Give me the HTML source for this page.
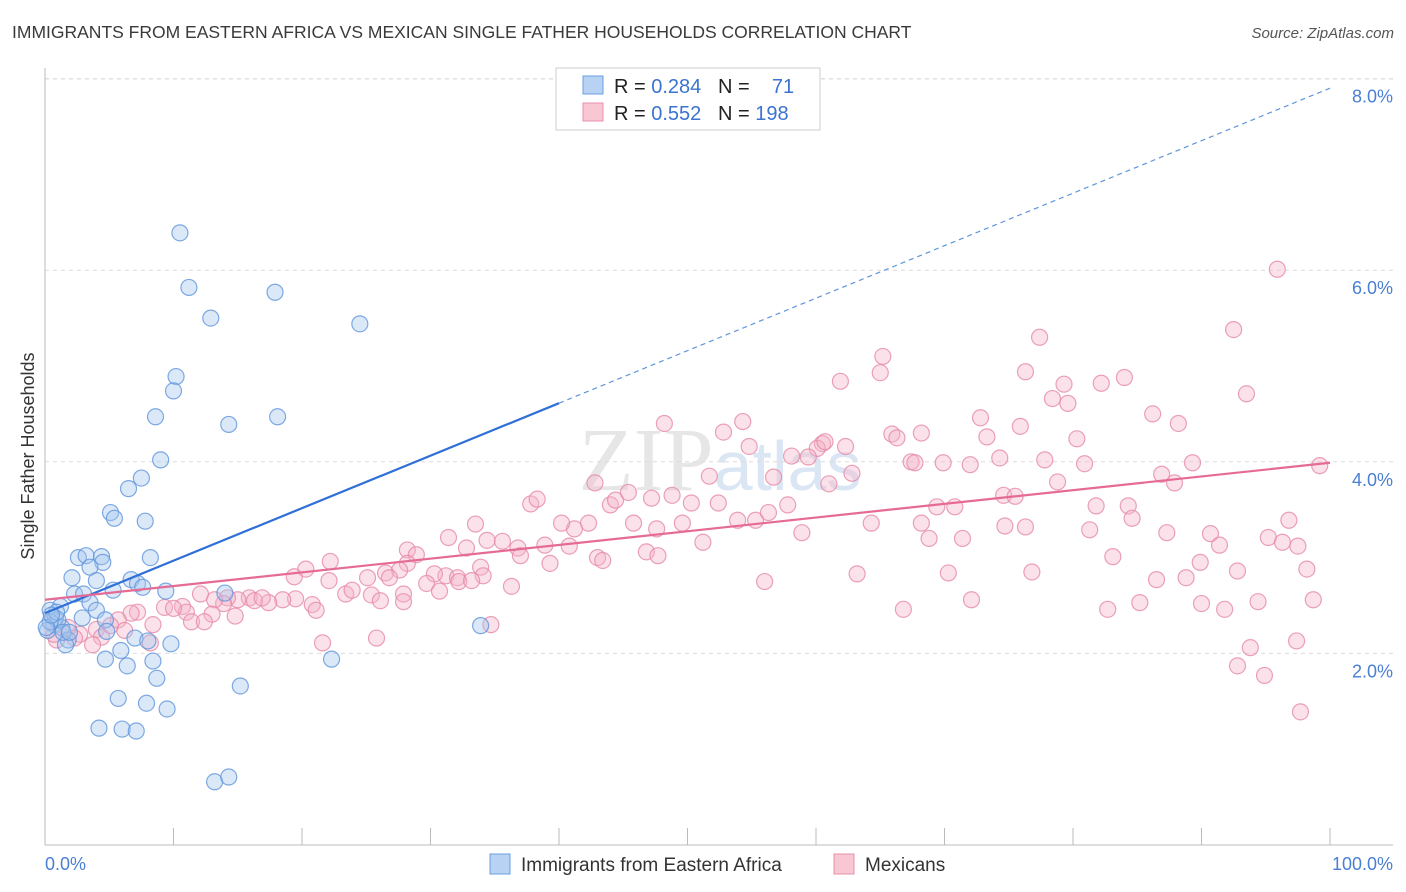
<!DOCTYPE html>
<html><head><meta charset="utf-8"><style>
body{margin:0;background:#fff;font-family:"Liberation Sans",sans-serif;}
#wrap{position:relative;width:1406px;height:892px;overflow:hidden;}
.title{position:absolute;left:12px;top:22px;font-size:17.5px;color:#3a3a3a;}
.source{position:absolute;right:12px;top:25px;font-size:15px;color:#555;font-style:italic;}
</style></head><body>
<div id="wrap">
<div class="title">IMMIGRANTS FROM EASTERN AFRICA VS MEXICAN SINGLE FATHER HOUSEHOLDS CORRELATION CHART</div>
<div class="source">Source: ZipAtlas.com</div>
<svg id="svg" width="1406" height="892" style="position:absolute;left:0;top:0"></svg>
</div>
<script>
const blueX=[10.5,11.2,12.9,17.9,24.5,10.2,10.0,8.6,14.3,18.1,9.0,6.5,7.5,5.1,5.4,7.8,2.6,3.2,4.4,4.5,8.2,3.5,2.1,4.0,6.7,7.2,7.6,9.4,2.3,3.0,5.3,14.0,3.5,1.2,0.4,4.0,2.9,4.7,0.7,1.3,0.2,1.8,1.6,4.8,7.0,8.0,9.8,5.9,4.7,6.4,8.4,8.7,5.7,7.9,9.5,15.2,4.2,6.0,7.1,13.2,14.3,22.3,33.9,0.8,1.0,1.4,0.4,0.1,0.9,1.9,0.5];
const blueY=[6.39,5.82,5.50,5.77,5.44,4.89,4.74,4.47,4.39,4.47,4.02,3.72,3.83,3.47,3.41,3.38,3.00,3.02,3.01,2.95,3.00,2.90,2.79,2.76,2.77,2.73,2.69,2.65,2.62,2.62,2.66,2.63,2.53,2.49,2.45,2.45,2.37,2.35,2.30,2.27,2.24,2.14,2.09,2.23,2.16,2.13,2.10,2.03,1.94,1.87,1.92,1.74,1.53,1.48,1.42,1.66,1.22,1.21,1.19,0.66,0.71,1.94,2.29,2.37,2.35,2.22,2.33,2.27,2.43,2.22,2.40];
const pinkX=[95.9,92.5,77.4,65.2,65.0,76.3,61.9,84.0,82.2,79.3,93.5,78.4,79.6,86.2,72.8,88.2,48.2,54.3,75.9,52.8,65.9,68.2,66.3,73.3,80.3,54.8,60.5,62.3,60.1,60.7,59.4,58.1,62.8,74.3,67.4,67.7,77.8,72.0,69.9,80.9,89.3,86.9,87.9,99.2,74.6,75.5,78.8,61.0,51.7,56.7,37.8,38.3,42.8,44.0,44.4,45.4,47.2,48.8,50.3,52.4,49.6,53.9,55.3,56.3,57.8,58.9,69.4,70.8,68.2,81.8,84.3,84.6,81.3,87.3,90.7,91.4,95.2,96.8,96.3,97.5,74.7,76.3,64.3,68.8,71.4,51.2,47.6,45.8,42.3,41.2,40.2,38.9,36.8,40.8,35.6,33.5,34.4,31.4,32.8,28.2,28.9,22.2,37.0,33.9,43.0,46.8,47.7,43.4,39.3,28.2,26.5,27.6,26.8,31.2,30.3,32.1,34.1,32.2,33.2,29.7,30.7,27.9,25.1,25.4,23.4,22.1,23.9,19.4,20.3,36.3,56.0,63.2,70.3,76.8,83.1,86.5,88.8,89.9,92.8,98.2,90.0,91.8,94.4,98.7,85.2,82.7,72.1,66.8,26.1,27.9,19.5,20.8,18.5,17.4,15.9,15.0,16.3,16.9,14.2,13.9,13.2,12.1,10.7,11.0,9.3,10.0,13.0,14.8,21.1,7.2,6.7,5.7,8.4,11.4,12.4,5.1,4.0,6.2,2.7,2.3,0.9,0.7,1.8,4.4,3.7,8.2,21.6,25.8,34.7,93.8,97.4,94.9,97.7,92.8];
const pinkY=[6.01,5.38,5.30,5.10,4.93,4.94,4.84,4.88,4.82,4.81,4.71,4.66,4.61,4.50,4.46,4.40,4.40,4.42,4.37,4.31,4.29,4.30,4.25,4.26,4.24,4.16,4.19,4.16,4.14,4.21,4.05,4.06,3.88,4.04,4.00,3.99,4.02,3.97,3.99,3.98,3.99,3.87,3.78,3.96,3.65,3.64,3.79,3.77,3.85,3.84,3.56,3.61,3.78,3.55,3.60,3.68,3.62,3.65,3.57,3.57,3.36,3.39,3.39,3.47,3.55,3.26,3.53,3.53,3.36,3.54,3.54,3.41,3.29,3.26,3.25,3.13,3.21,3.39,3.16,3.12,3.33,3.32,3.36,3.20,3.20,3.16,3.30,3.36,3.36,3.30,3.36,3.13,3.10,3.12,3.17,3.35,3.18,3.21,3.10,3.08,3.03,2.96,3.02,2.90,3.00,3.06,3.02,2.97,2.94,2.94,2.84,2.87,2.79,2.81,2.83,2.79,2.81,2.75,2.76,2.73,2.65,2.62,2.79,2.61,2.62,2.76,2.66,2.80,2.88,2.70,2.75,2.83,2.84,2.85,3.01,2.77,2.79,2.95,2.86,2.88,2.52,2.46,2.54,2.56,2.53,2.46,2.56,2.46,2.55,2.54,2.57,2.51,2.56,2.53,2.58,2.56,2.55,2.58,2.58,2.52,2.56,2.62,2.49,2.43,2.48,2.47,2.41,2.39,2.45,2.43,2.42,2.35,2.30,2.33,2.33,2.29,2.25,2.24,2.20,2.16,2.14,2.20,2.27,2.17,2.09,2.11,2.11,2.16,2.30,2.06,2.13,1.77,1.39,1.87];
const blueTrend=[2.42,0.0548]; // intercept, slope
const pinkTrend=[2.56,0.0143];
const yTicks=[2,4,6,8];
const yTickLabels=["2.0%","4.0%","6.0%","8.0%"];
const xTicks=[0,10,20,30,40,50,60,70,80,90,100];

const svg=document.getElementById('svg');
const NS='http://www.w3.org/2000/svg';
const X0=45,X1=1330,YB=845,PY=95.8;
const sx=v=>X0+v*(X1-X0)/100;
const sy=v=>YB-v*PY;
function mk(t,a,p){const e=document.createElementNS(NS,t);for(const k in a)e.setAttribute(k,a[k]);(p||svg).appendChild(e);return e;}

// watermark
const wm=mk('text',{x:720,y:490,'text-anchor':'middle','font-size':90,'font-family':'Liberation Serif','fill':'#e6e6e6'});


wm.innerHTML='ZIP<tspan fill="#dbe6f4" font-family="Liberation Sans" font-size="70">atlas</tspan>';

yTicks.forEach((v,i)=>{
 const g=mk('line',{x1:X0,x2:1393,y1:sy(v),y2:sy(v),stroke:'#dcdcdc','stroke-dasharray':'4,4'});
 
 
 const t=mk('text',{x:1393,y:sy(v)+24,'text-anchor':'end','font-size':18,fill:'#4a7fd4'});
 
 
 t.textContent=yTickLabels[i];
});
const g8=mk('line',{x1:X0,x2:1393,y1:79,y2:79,stroke:'#dcdcdc','stroke-dasharray':'4,4'});
const ax=mk('line',{x1:X0,x2:X0,y1:68,y2:YB,stroke:'#bbb'});


const bx=mk('line',{x1:X0,x2:1393,y1:YB,y2:YB,stroke:'#bbb'});


xTicks.forEach(v=>{
 const t=mk('line',{x1:sx(v),x2:sx(v),y1:828,y2:YB,stroke:'#bbb'});
 
 
});
const xl0=mk('text',{x:45,y:870,'font-size':18,fill:'#4a7fd4'});xl0.textContent='0.0%';


const xl1=mk('text',{x:1393,y:870,'font-size':18,fill:'#4a7fd4','text-anchor':'end'});xl1.textContent='100.0%';


const yt=mk('text',{x:34,y:456,'font-size':18,fill:'#333','text-anchor':'middle',transform:'rotate(-90 34 456)'});
yt.textContent='Single Father Households';



function pts(xs,ys,fill,stroke,name){
 xs.forEach((x,i)=>{
  const c=mk('circle',{cx:sx(x),cy:sy(ys[i]),r:8,fill:fill,'fill-opacity':0.4,stroke:stroke,'stroke-width':1.2,'stroke-opacity':0.8});
  
  
 });
}
pts(pinkX,pinkY,'#f5b5c8','#e68aa8','mexicans-point');
pts(blueX,blueY,'#a6c6ee','#5f95dc','eastern-africa-point');

const bEnd=40;
const bl=mk('line',{x1:sx(0),y1:sy(blueTrend[0]),x2:sx(bEnd),y2:sy(blueTrend[0]+blueTrend[1]*bEnd),stroke:'#2f6fd6','stroke-width':2.2});


const bd=mk('line',{x1:sx(bEnd),y1:sy(blueTrend[0]+blueTrend[1]*bEnd),x2:sx(100),y2:sy(blueTrend[0]+blueTrend[1]*100),stroke:'#5f95dc','stroke-width':1.2,'stroke-dasharray':'5,4'});


const pl=mk('line',{x1:sx(0),y1:sy(pinkTrend[0]),x2:sx(100),y2:sy(pinkTrend[0]+pinkTrend[1]*100),stroke:'#e56a96','stroke-width':2.2});



// top legend
const lg=mk('g',{});


mk('rect',{x:556,y:68,width:264,height:62,fill:'#fff',stroke:'#ccc'},lg);
mk('rect',{x:583,y:76,width:20,height:18,fill:'#b8d2f4',stroke:'#6a9ee0'},lg);
mk('rect',{x:583,y:103,width:20,height:18,fill:'#f9c6d4',stroke:'#e890a8'},lg);
const l1=mk('text',{x:614,y:93,'font-size':20,fill:'#222'},lg);
l1.innerHTML='R = <tspan fill="#3b73d0">0.284</tspan>   N =  <tspan fill="#3b73d0">  71</tspan>';
l1.setAttribute('xml:space','preserve');l1.style.whiteSpace='pre';
const l2=mk('text',{x:614,y:120,'font-size':20,fill:'#222'},lg);
l2.innerHTML='R = <tspan fill="#3b73d0">0.552</tspan>   N = <tspan fill="#3b73d0">198</tspan>';
l2.style.whiteSpace='pre';

// bottom legend
const bl1=mk('rect',{x:490,y:854,width:20,height:20,fill:'#b8d2f4',stroke:'#6a9ee0'});


const bt1=mk('text',{x:521,y:871,'font-size':19,fill:'#333'});bt1.textContent='Immigrants from Eastern Africa';


const bl2=mk('rect',{x:834,y:854,width:20,height:20,fill:'#f9c6d4',stroke:'#e890a8'});


const bt2=mk('text',{x:865,y:871,'font-size':19,fill:'#333'});bt2.textContent='Mexicans';


</script>
</body></html>
